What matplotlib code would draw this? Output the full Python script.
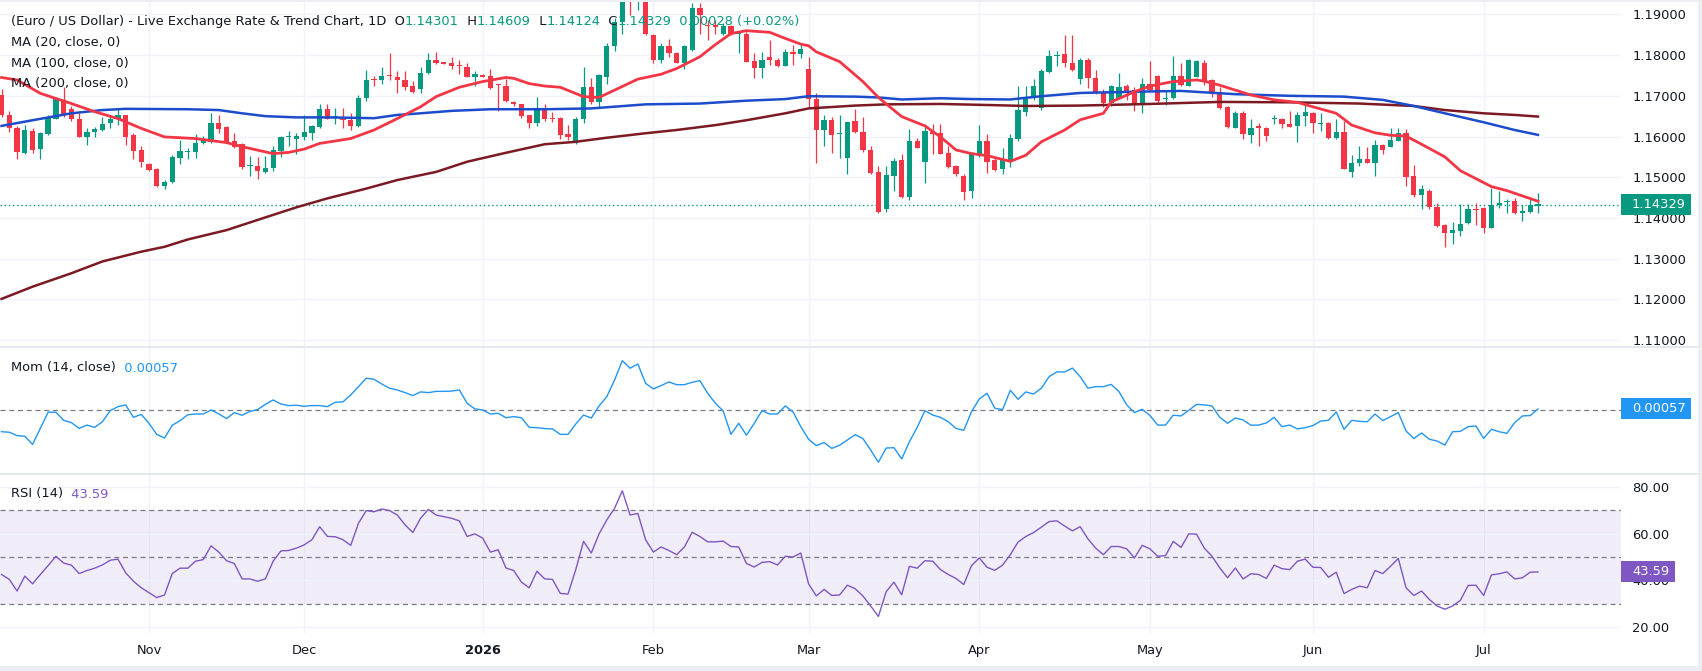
import numpy as np
import pandas as pd
import matplotlib
matplotlib.use("Agg")
import matplotlib.pyplot as plt
from matplotlib.patches import Rectangle
from matplotlib.lines import Line2D
from matplotlib.text import Annotation

W, H = 1702, 671

# daily bars, EUR/USD
dates = pd.bdate_range("2025-10-07", "2026-07-10")
month_labels = ["Nov", "Dec", "2026", "Feb", "Mar", "Apr", "May", "Jun", "Jul"]

opens = [
    1.1703, 1.1654, 1.1620, 1.1560, 1.1613, 1.1569, 1.1606, 1.1644, 1.1690, 1.1667,
    1.1643, 1.1599, 1.1610, 1.1616, 1.1634, 1.1644, 1.1653, 1.1603, 1.1567, 1.1532,
    1.1520, 1.1479, 1.1487, 1.1548, 1.1562, 1.1563, 1.1583, 1.1587, 1.1632, 1.1624,
    1.1589, 1.1581, 1.1527, 1.1528, 1.1513, 1.1522, 1.1565, 1.1599, 1.1595, 1.1598,
    1.1609, 1.1624, 1.1667, 1.1648, 1.1643, 1.1640, 1.1625, 1.1694, 1.1742, 1.1740,
    1.1750, 1.1747, 1.1740, 1.1724, 1.1716, 1.1755, 1.1789, 1.1780, 1.1780, 1.1775,
    1.1770, 1.1745, 1.1750, 1.1749, 1.1727, 1.1725, 1.1685, 1.1679, 1.1652, 1.1632,
    1.1669, 1.1645, 1.1646, 1.1605, 1.1585, 1.1644, 1.1721, 1.1685, 1.1747, 1.1823,
    1.1882, 1.1960, 1.1930, 1.1975, 1.1849, 1.1789, 1.1822, 1.1804, 1.1780, 1.1812,
    1.1915, 1.1873, 1.1871, 1.1853, 1.1871, 1.1853, 1.1853, 1.1785, 1.1769, 1.1796,
    1.1789, 1.1774, 1.1807, 1.1802, 1.1767, 1.1691, 1.1617, 1.1640, 1.1605, 1.1548,
    1.1639, 1.1610, 1.1567, 1.1512, 1.1422, 1.1504, 1.1542, 1.1452, 1.1589, 1.1538,
    1.1608, 1.1608, 1.1560, 1.1527, 1.1504, 1.1467, 1.1552, 1.1589, 1.1542, 1.1521,
    1.1538, 1.1595, 1.1661, 1.1698, 1.1671, 1.1759, 1.1798, 1.1803, 1.1781, 1.1741,
    1.1789, 1.1743, 1.1706, 1.1683, 1.1695, 1.1724, 1.1714, 1.1677, 1.1730, 1.1748,
    1.1692, 1.1694, 1.1748, 1.1725, 1.1747, 1.1781, 1.1739, 1.1710, 1.1672, 1.1622,
    1.1657, 1.1603, 1.1626, 1.1622, 1.1642, 1.1644, 1.1630, 1.1626, 1.1650, 1.1657,
    1.1631, 1.1634, 1.1597, 1.1610, 1.1513, 1.1534, 1.1544, 1.1536, 1.1579, 1.1575,
    1.1590, 1.1608, 1.1503, 1.1457, 1.1466, 1.1426, 1.1382, 1.1362, 1.1368, 1.1388,
    1.1422, 1.1424, 1.1376, 1.1432, 1.1439, 1.1441, 1.1411, 1.1415, 1.14301,
]
highs = [
    1.1716, 1.1662, 1.1625, 1.1628, 1.1621, 1.1612, 1.1653, 1.1697, 1.1721, 1.1675,
    1.1657, 1.1621, 1.1624, 1.1647, 1.1650, 1.1669, 1.1654, 1.1608, 1.1577, 1.1535,
    1.1522, 1.1493, 1.1554, 1.1591, 1.1571, 1.1605, 1.1601, 1.1657, 1.1654, 1.1626,
    1.1608, 1.1583, 1.1552, 1.1550, 1.1552, 1.1577, 1.1602, 1.1613, 1.1609, 1.1653,
    1.1628, 1.1679, 1.1680, 1.1671, 1.1671, 1.1657, 1.1702, 1.1763, 1.1748, 1.1770,
    1.1804, 1.1761, 1.1761, 1.1736, 1.1771, 1.1804, 1.1808, 1.1781, 1.1796, 1.1789,
    1.1780, 1.1761, 1.1753, 1.1765, 1.1730, 1.1741, 1.1687, 1.1681, 1.1654, 1.1697,
    1.1680, 1.1661, 1.1649, 1.1628, 1.1649, 1.1771, 1.1743, 1.1753, 1.1829, 1.1892,
    1.1990, 1.2000, 1.2010, 1.2000, 1.1853, 1.1829, 1.1839, 1.1808, 1.1825, 1.1927,
    1.1927, 1.1886, 1.1886, 1.1878, 1.1874, 1.1857, 1.1857, 1.1806, 1.1808, 1.1837,
    1.1792, 1.1815, 1.1825, 1.1829, 1.1796, 1.1706, 1.1654, 1.1649, 1.1653, 1.1636,
    1.1667, 1.1647, 1.1577, 1.1528, 1.1528, 1.1546, 1.1557, 1.1618, 1.1597, 1.1630,
    1.1630, 1.1630, 1.1577, 1.1530, 1.1509, 1.1563, 1.1628, 1.1606, 1.1546, 1.1571,
    1.1606, 1.1724, 1.1724, 1.1741, 1.1765, 1.1812, 1.1811, 1.1849, 1.1849, 1.1792,
    1.1792, 1.1763, 1.1716, 1.1726, 1.1757, 1.1730, 1.1721, 1.1743, 1.1785, 1.1751,
    1.1714, 1.1798, 1.1781, 1.1790, 1.1788, 1.1788, 1.1741, 1.1721, 1.1675, 1.1662,
    1.1662, 1.1644, 1.1634, 1.1624, 1.1653, 1.1646, 1.1662, 1.1661, 1.1685, 1.1659,
    1.1657, 1.1636, 1.1644, 1.1639, 1.1555, 1.1577, 1.1575, 1.1591, 1.1581, 1.1622,
    1.1621, 1.1618, 1.1530, 1.1481, 1.1472, 1.1436, 1.1385, 1.1390, 1.1434, 1.1434,
    1.1436, 1.1426, 1.1474, 1.1465, 1.1446, 1.1448, 1.1432, 1.1450, 1.14609,
]
lows = [
    1.1649, 1.1610, 1.1544, 1.1557, 1.1560, 1.1544, 1.1603, 1.1642, 1.1649, 1.1639,
    1.1598, 1.1578, 1.1599, 1.1614, 1.1620, 1.1628, 1.1579, 1.1544, 1.1524, 1.1516,
    1.1475, 1.1470, 1.1485, 1.1532, 1.1544, 1.1546, 1.1581, 1.1585, 1.1608, 1.1583,
    1.1572, 1.1519, 1.1504, 1.1495, 1.1511, 1.1516, 1.1550, 1.1577, 1.1558, 1.1591,
    1.1591, 1.1622, 1.1643, 1.1630, 1.1621, 1.1616, 1.1624, 1.1688, 1.1724, 1.1728,
    1.1739, 1.1706, 1.1714, 1.1706, 1.1706, 1.1753, 1.1778, 1.1778, 1.1766, 1.1753,
    1.1745, 1.1724, 1.1745, 1.1717, 1.1662, 1.1685, 1.1676, 1.1645, 1.1620, 1.1626,
    1.1639, 1.1636, 1.1595, 1.1591, 1.1581, 1.1634, 1.1680, 1.1669, 1.1730, 1.1810,
    1.1853, 1.1898, 1.1911, 1.1850, 1.1780, 1.1781, 1.1796, 1.1780, 1.1767, 1.1811,
    1.1853, 1.1837, 1.1853, 1.1849, 1.1849, 1.1804, 1.1782, 1.1744, 1.1744, 1.1776,
    1.1771, 1.1773, 1.1776, 1.1792, 1.1673, 1.1534, 1.1577, 1.1560, 1.1548, 1.1509,
    1.1609, 1.1563, 1.1509, 1.1413, 1.1415, 1.1467, 1.1450, 1.1445, 1.1571, 1.1486,
    1.1558, 1.1557, 1.1522, 1.1504, 1.1444, 1.1450, 1.1550, 1.1511, 1.1516, 1.1508,
    1.1526, 1.1590, 1.1651, 1.1690, 1.1666, 1.1757, 1.1773, 1.1771, 1.1762, 1.1730,
    1.1720, 1.1704, 1.1672, 1.1675, 1.1694, 1.1690, 1.1663, 1.1657, 1.1712, 1.1683,
    1.1677, 1.1692, 1.1724, 1.1724, 1.1745, 1.1726, 1.1698, 1.1667, 1.1620, 1.1620,
    1.1595, 1.1585, 1.1577, 1.1590, 1.1630, 1.1620, 1.1623, 1.1587, 1.1626, 1.1609,
    1.1614, 1.1595, 1.1595, 1.1519, 1.1501, 1.1528, 1.1535, 1.1504, 1.1557, 1.1574,
    1.1589, 1.1479, 1.1452, 1.1421, 1.1421, 1.1378, 1.1328, 1.1335, 1.1356, 1.1384,
    1.1382, 1.1364, 1.1374, 1.1424, 1.1411, 1.1409, 1.1393, 1.1413, 1.14124,
]
closes = [
    1.1653, 1.1620, 1.1563, 1.1617, 1.1567, 1.1608, 1.1647, 1.1692, 1.1653, 1.1642,
    1.1599, 1.1610, 1.1618, 1.1630, 1.1643, 1.1653, 1.1599, 1.1565, 1.1538, 1.1517,
    1.1479, 1.1487, 1.1550, 1.1564, 1.1564, 1.1583, 1.1591, 1.1634, 1.1618, 1.1585,
    1.1575, 1.1526, 1.1529, 1.1516, 1.1522, 1.1567, 1.1598, 1.1600, 1.1602, 1.1610,
    1.1626, 1.1667, 1.1644, 1.1649, 1.1640, 1.1626, 1.1694, 1.1740, 1.1739, 1.1749,
    1.1748, 1.1739, 1.1722, 1.1710, 1.1755, 1.1789, 1.1780, 1.1779, 1.1774, 1.1773,
    1.1747, 1.1753, 1.1747, 1.1718, 1.1726, 1.1687, 1.1679, 1.1651, 1.1634, 1.1665,
    1.1643, 1.1643, 1.1603, 1.1599, 1.1644, 1.1721, 1.1685, 1.1751, 1.1823, 1.1882,
    1.1960, 1.1930, 1.1970, 1.1853, 1.1789, 1.1822, 1.1804, 1.1781, 1.1822, 1.1915,
    1.1898, 1.1871, 1.1870, 1.1871, 1.1852, 1.1854, 1.1784, 1.1769, 1.1788, 1.1788,
    1.1774, 1.1807, 1.1802, 1.1816, 1.1691, 1.1617, 1.1640, 1.1603, 1.1607, 1.1635,
    1.1612, 1.1567, 1.1511, 1.1414, 1.1505, 1.1540, 1.1452, 1.1589, 1.1572, 1.1613,
    1.1607, 1.1557, 1.1526, 1.1509, 1.1464, 1.1557, 1.1589, 1.1538, 1.1517, 1.1542,
    1.1597, 1.1665, 1.1698, 1.1724, 1.1761, 1.1798, 1.1799, 1.1780, 1.1763, 1.1789,
    1.1743, 1.1706, 1.1683, 1.1724, 1.1721, 1.1712, 1.1677, 1.1730, 1.1714, 1.1688,
    1.1694, 1.1748, 1.1726, 1.1788, 1.1786, 1.1737, 1.1710, 1.1669, 1.1624, 1.1657,
    1.1605, 1.1622, 1.1620, 1.1602, 1.1644, 1.1630, 1.1624, 1.1653, 1.1659, 1.1632,
    1.1633, 1.1597, 1.1610, 1.1520, 1.1534, 1.1544, 1.1536, 1.1579, 1.1567, 1.1591,
    1.1608, 1.1501, 1.1456, 1.1470, 1.1427, 1.1381, 1.1362, 1.1370, 1.1385, 1.1421,
    1.1420, 1.1376, 1.1432, 1.1436, 1.1441, 1.1411, 1.1417, 1.1432, 1.14329,
]

# moving averages at these bar numbers
ma20_bar = [0, 2, 5, 9, 12, 15, 18, 21, 25, 29, 31, 35, 37, 39, 41, 45, 48, 51, 54, 56,
            59, 62, 65, 66, 68, 70, 72, 75, 77, 79, 82, 85, 87, 90, 92, 94, 96, 99, 101, 103,
            104, 105, 108, 111, 113, 116, 119, 121, 123, 125, 127, 130, 132, 134, 137, 139, 142, 143, 146, 148,
            151, 154, 155, 157, 159, 161, 164, 167, 169, 172, 174, 177, 179, 181, 183, 186, 188, 192, 194, 198]
ma20_val = [1.1745, 1.1739, 1.1706, 1.1681, 1.1661, 1.1644, 1.1620, 1.1599, 1.1595, 1.1585,
            1.1575, 1.1558, 1.1561, 1.1569, 1.1583, 1.1595, 1.1616, 1.1644, 1.1673, 1.1698,
            1.1721, 1.1735, 1.1745, 1.1743, 1.1730, 1.1724, 1.1721, 1.1698, 1.1696, 1.1714,
            1.1741, 1.1753, 1.1767, 1.1796, 1.1826, 1.1853, 1.1860, 1.1856, 1.1841, 1.1827,
            1.1823, 1.1808, 1.1784, 1.1735, 1.1696, 1.1649, 1.1626, 1.1599, 1.1567, 1.1558,
            1.1553, 1.1539, 1.1554, 1.1587, 1.1616, 1.1641, 1.1657, 1.1685, 1.1710, 1.1724,
            1.1735, 1.1739, 1.1736, 1.1726, 1.1714, 1.1702, 1.1690, 1.1684, 1.1673, 1.1657,
            1.1628, 1.1609, 1.1603, 1.1601, 1.1581, 1.1550, 1.1516, 1.1477, 1.1467, 1.1441]
ma100_bar = [0, 4, 9, 13, 16, 24, 28, 31, 34, 38, 42, 48, 51, 54, 58, 63, 70, 76, 83, 90,
             96, 101, 104, 110, 113, 116, 121, 125, 130, 134, 139, 146, 152, 159, 166, 173, 178, 182, 186, 191,
             195, 198]
ma100_val = [1.1626, 1.1640, 1.1657, 1.1665, 1.1668, 1.1667, 1.1665, 1.1657, 1.1650, 1.1647,
             1.1647, 1.1645, 1.1653, 1.1657, 1.1663, 1.1667, 1.1667, 1.1669, 1.1679, 1.1681,
             1.1688, 1.1692, 1.1699, 1.1698, 1.1696, 1.1691, 1.1694, 1.1692, 1.1691, 1.1699,
             1.1707, 1.1710, 1.1712, 1.1704, 1.1700, 1.1698, 1.1690, 1.1675, 1.1657, 1.1635,
             1.1616, 1.1604]
ma200_bar = [0, 4, 9, 13, 18, 21, 24, 29, 33, 38, 42, 47, 51, 56, 60, 65, 70, 74, 78, 83,
             87, 92, 96, 101, 104, 110, 114, 121, 128, 132, 139, 148, 157, 166, 175, 182, 186, 191, 195, 198]
ma200_val = [1.1201, 1.1231, 1.1264, 1.1293, 1.1317, 1.1329, 1.1347, 1.1370, 1.1395, 1.1426,
             1.1448, 1.1472, 1.1493, 1.1513, 1.1538, 1.1560, 1.1581, 1.1587, 1.1597, 1.1608,
             1.1616, 1.1628, 1.1640, 1.1657, 1.1669, 1.1676, 1.1679, 1.1680, 1.1677, 1.1675,
             1.1676, 1.1680, 1.1685, 1.1684, 1.1681, 1.1675, 1.1665, 1.1657, 1.1653, 1.1649]

momentum = [
    -0.0124, -0.0127, -0.0146, -0.0150, -0.0196, -0.0105, -0.0013, -0.0013, -0.0059, -0.0072,
    -0.0105, -0.0086, -0.0099, -0.0067, -0.0004, 0.0019, 0.0029, -0.0042, -0.0025, -0.0076,
    -0.0139, -0.0160, -0.0087, -0.0061, -0.0027, -0.0023, -0.0023, 0.0000, -0.0023, -0.0049,
    -0.0015, -0.0030, -0.0008, 0.0002, 0.0032, 0.0057, 0.0034, 0.0025, 0.0027, 0.0021,
    0.0025, 0.0025, 0.0019, 0.0044, 0.0046, 0.0086, 0.0133, 0.0181, 0.0175, 0.0148,
    0.0124, 0.0114, 0.0099, 0.0082, 0.0103, 0.0099, 0.0106, 0.0106, 0.0108, 0.0114,
    0.0038, 0.0006, 0.0000, -0.0023, -0.0019, -0.0044, -0.0038, -0.0044, -0.0099, -0.0101,
    -0.0106, -0.0108, -0.0139, -0.0139, -0.0080, -0.0029, -0.0046, 0.0023, 0.0076, 0.0171,
    0.0281, 0.0238, 0.0262, 0.0152, 0.0120, 0.0139, 0.0160, 0.0144, 0.0144, 0.0158,
    0.0167, 0.0095, 0.0038, -0.0006, -0.0139, -0.0076, -0.0144, -0.0076, -0.0004, -0.0023,
    -0.0023, 0.0023, -0.0011, -0.0095, -0.0167, -0.0203, -0.0186, -0.0219, -0.0201, -0.0171,
    -0.0141, -0.0163, -0.0228, -0.0298, -0.0217, -0.0215, -0.0279, -0.0181, -0.0099, -0.0004,
    -0.0029, -0.0042, -0.0067, -0.0105, -0.0116, -0.0010, 0.0063, 0.0095, 0.0010, 0.0002,
    0.0112, 0.0061, 0.0103, 0.0091, 0.0124, 0.0190, 0.0217, 0.0217, 0.0239, 0.0190,
    0.0124, 0.0133, 0.0133, 0.0146, 0.0105, 0.0029, -0.0015, 0.0004, -0.0032, -0.0086,
    -0.0086, -0.0030, -0.0034, -0.0002, 0.0032, 0.0029, 0.0023, -0.0042, -0.0076, -0.0046,
    -0.0057, -0.0087, -0.0086, -0.0074, -0.0042, -0.0095, -0.0086, -0.0108, -0.0101, -0.0089,
    -0.0063, -0.0059, -0.0011, -0.0110, -0.0059, -0.0065, -0.0067, -0.0023, -0.0061, -0.0038,
    -0.0015, -0.0120, -0.0163, -0.0131, -0.0167, -0.0177, -0.0200, -0.0124, -0.0122, -0.0095,
    -0.0091, -0.0162, -0.0110, -0.0124, -0.0133, -0.0072, -0.0034, -0.0032, 0.00057,
]
rsi = [
    42.5, 40.4, 35.4, 41.8, 38.5, 42.5, 46.3, 50.3, 47.4, 46.5,
    42.9, 44.2, 45.2, 46.6, 48.6, 49.1, 43.2, 39.6, 36.8, 34.7,
    32.6, 33.7, 42.9, 45.2, 45.2, 48.2, 48.9, 54.8, 52.1, 48.4,
    47.2, 40.6, 40.6, 39.6, 40.6, 48.2, 52.6, 52.8, 53.8, 55.2,
    57.4, 63.0, 58.8, 58.7, 57.4, 55.0, 64.5, 69.9, 69.4, 70.6,
    69.9, 68.0, 63.8, 60.5, 66.6, 70.4, 68.0, 67.3, 66.6, 65.5,
    58.8, 59.9, 58.1, 52.1, 53.1, 45.3, 44.2, 39.2, 36.8, 43.9,
    40.6, 40.4, 34.4, 34.1, 44.6, 56.7, 51.7, 59.9, 65.9, 70.9,
    78.4, 68.0, 68.7, 57.4, 52.1, 54.3, 52.8, 51.0, 54.3, 60.6,
    58.8, 56.5, 56.5, 56.8, 54.5, 54.3, 47.2, 45.7, 47.7, 48.0,
    46.6, 50.3, 50.0, 51.7, 38.5, 33.3, 36.1, 33.5, 33.7, 37.9,
    36.4, 33.3, 29.0, 24.5, 35.1, 39.2, 33.8, 46.0, 45.2, 48.4,
    48.2, 44.6, 42.5, 40.8, 38.2, 46.3, 49.6, 45.6, 44.3, 46.5,
    51.0, 56.4, 58.8, 60.5, 62.8, 65.2, 65.5, 63.3, 61.2, 63.0,
    57.8, 53.8, 51.0, 54.5, 54.5, 53.5, 49.6, 55.0, 53.5, 50.3,
    50.6, 56.7, 54.1, 59.9, 59.8, 53.8, 50.3, 45.3, 41.1, 45.3,
    40.6, 42.8, 42.5, 40.8, 46.5, 45.0, 44.6, 48.2, 49.1, 45.6,
    45.5, 41.3, 43.5, 34.3, 36.1, 37.5, 36.8, 44.2, 42.9, 46.0,
    49.4, 36.8, 33.5, 35.4, 31.8, 29.0, 27.6, 29.0, 31.4, 37.8,
    37.9, 33.5, 42.3, 42.8, 43.6, 40.6, 41.1, 43.5, 43.59,
]

price_levels = [1.11, 1.12, 1.13, 1.14, 1.15, 1.16, 1.17, 1.18, 1.19]
rsi_levels = [20, 40, 60, 80]

GREEN = "#089981"
RED = "#f23645"
TXT = "#131722"
GRID = "#f0f3fa"
SEP = "#e0e3eb"
FS = 9.4

plt.rcParams["font.family"] = ["DejaVu Sans"]

fig = plt.figure(figsize=(W / 100, H / 100), dpi=100)
fig.patch.set_facecolor("#eceef3")
fig.add_artist(Rectangle((0, 1 - 666 / H), 1698 / W, 664 / H, transform=fig.transFigure,
                         facecolor="white", edgecolor="none", zorder=-10))


def px_axes(x0, y0, x1, y1):
    a = fig.add_axes([x0 / W, 1 - y1 / H, (x1 - x0) / W, (y1 - y0) / H])
    a.set_facecolor("none")
    for s in a.spines.values():
        s.set_visible(False)
    return a


ax = px_axes(0, 2, 1621, 347)
ax_m = px_axes(0, 347, 1621, 474)
ax_r = px_axes(0, 474, 1621, 633)

x = np.arange(len(dates))
o = np.array(opens)
h = np.array(highs)
l = np.array(lows)
c = np.array(closes)
month_pos = [i for i in range(1, len(dates)) if dates[i].month != dates[i - 1].month]

for a in (ax, ax_m, ax_r):
    a.set_xlim(-0.2, 208.7)
    for p in month_pos:
        a.axvline(p, color=GRID, lw=1.0, zorder=0)

# ---- price panel
ax.set_ylim(1.10828, 1.19305)
for lv in price_levels:
    ax.axhline(lv, color=GRID, lw=1.0, zorder=0)

up = c >= o
cols = np.where(up, GREEN, RED)
ax.vlines(x, l, h, colors=cols, lw=0.9, zorder=2)
body_lo = np.minimum(o, c)
body_h = np.maximum(np.abs(c - o), 0.0003)
ax.bar(x, body_h, bottom=body_lo, width=0.68, color=cols, linewidth=0, zorder=3)

ax.plot(ma200_bar, ma200_val, color="#7b1a22", lw=1.8, zorder=4, solid_joinstyle="round")
ax.plot(ma100_bar, ma100_val, color="#1c4bcc", lw=1.8, zorder=4, solid_joinstyle="round")
ax.plot(ma20_bar, ma20_val, color=RED, lw=2.0, zorder=5, solid_joinstyle="round")
ax.axhline(c[-1], color=GREEN, lw=1.0, ls=(0, (1, 2)), zorder=1)

ax.yaxis.tick_right()
ax.set_yticks(price_levels)
ax.set_yticklabels([f"{v:.5f}" for v in price_levels])
ax.tick_params(axis="y", length=0, pad=8, labelsize=FS, labelcolor=TXT)
ax.set_xticks([])

# ---- momentum panel
ax_m.set_ylim(-0.0365, 0.0359)
ax_m.axhline(0, color="#787b86", lw=0.9, ls=(0, (4, 3)), zorder=1)
ax_m.plot(x, momentum, color="#2196f3", lw=1.0, zorder=3)
ax_m.set_xticks([])
ax_m.set_yticks([])

# ---- RSI panel
ax_r.set_ylim(17.4, 85.6)
ax_r.axhspan(30, 70, color="#7e57c2", alpha=0.1, lw=0, zorder=0)
for lv in rsi_levels:
    ax_r.axhline(lv, color=GRID, lw=1.0, zorder=0.5)
for lv in (70, 50, 30):
    ax_r.axhline(lv, color="#787b86", lw=0.9, ls=(0, (4, 3)), zorder=1)
ax_r.plot(x, rsi, color="#7e57c2", lw=1.0, zorder=3)
ax_r.yaxis.tick_right()
ax_r.set_yticks(rsi_levels)
ax_r.set_yticklabels([f"{v:.2f}" for v in rsi_levels])
ax_r.tick_params(axis="y", length=0, pad=8, labelsize=FS, labelcolor=TXT)
ax_r.set_xticks(month_pos)
ax_r.set_xticklabels(month_labels)
ax_r.tick_params(axis="x", length=0, pad=8, labelsize=FS, labelcolor=TXT)
ax_r.get_xticklabels()[2].set_fontweight("bold")

# ---- separators
for yy in (347, 474):
    fig.add_artist(Line2D([0, 1698 / W], [1 - yy / H] * 2, transform=fig.transFigure,
                          color=SEP, lw=1.2))


# ---- last-value boxes on the right scale
def value_box(a, val, text, color, right_px):
    yf = a.transData.transform((0, val))[1] / fig.bbox.height
    hh = 21 / H
    fig.add_artist(Rectangle((1621 / W, yf - hh / 2), (right_px - 1621) / W, hh,
                             transform=fig.transFigure, facecolor=color,
                             edgecolor="none", zorder=5))
    fig.text(1632 / W, yf, text, color="white", fontsize=FS, va="center",
             ha="left", zorder=6)


value_box(ax, c[-1], "1.14329", GREEN, 1691)
value_box(ax_m, momentum[-1], "0.00057", "#2196f3", 1691)
value_box(ax_r, rsi[-1], "43.59", "#7e57c2", 1675)


# ---- legends (coloured pieces chained one after another)
def chain_text(parts, x_px, y_px):
    prev = fig.text(x_px / W, 1 - y_px / H, parts[0][0], color=parts[0][1],
                    fontsize=FS, va="center", ha="left", zorder=10)
    for s, col in parts[1:]:
        prev = fig.add_artist(Annotation(s, xy=(1, 0), xycoords=prev, va="bottom",
                                         ha="left", color=col, fontsize=FS, zorder=10))
    return prev


chain_text([("(Euro / US Dollar) - Live Exchange Rate & Trend Chart, 1D  O", TXT),
            ("1.14301", GREEN), ("  H", TXT), ("1.14609", GREEN), ("  L", TXT),
            ("1.14124", GREEN), ("  C", TXT), ("1.14329", GREEN),
            ("  0.00028 (+0.02%)", GREEN)], 11, 21.5)
chain_text([("MA (20, close, 0)", TXT)], 11, 42.3)
chain_text([("MA (100, close, 0)", TXT)], 11, 63.2)
chain_text([("MA (200, close, 0)", TXT)], 11, 84)
chain_text([("Mom (14, close)", TXT), ("  0.00057", "#2196f3")], 11, 368)
chain_text([("RSI (14)", TXT), ("  43.59", "#7e57c2")], 11, 494)

fig.savefig("out.png", dpi=100, facecolor=fig.get_facecolor())
